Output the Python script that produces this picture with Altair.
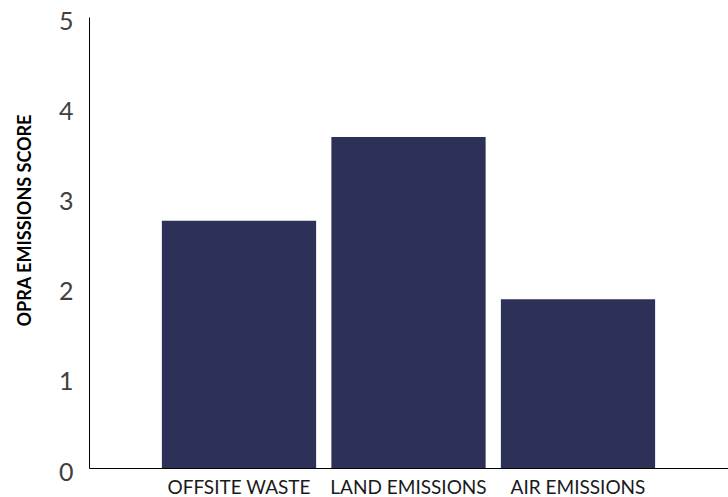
import altair as alt
import pandas as pd

categories = ["OFFSITE WASTE", "LAND EMISSIONS", "AIR EMISSIONS"]
scores = [2.74, 3.67, 1.87]
y_ticks = [0, 1, 2, 3, 4, 5]

df = pd.DataFrame({"category": categories, "score": scores})

chart = alt.Chart(df).mark_bar(color="#2D3057").encode(
    x=alt.X("category:N", sort=categories,
            scale=alt.Scale(paddingInner=0.09, paddingOuter=0.43, align=0.5),
            axis=alt.Axis(title=None, labelAngle=0, labelFont="Lato", labelFontSize=19,
                          labelColor="#1a1a1a", ticks=False, domainColor="#000000",
                          domainWidth=1, labelPadding=10, labelBaseline="top")),
    y=alt.Y("score:Q", scale=alt.Scale(domain=[0, 5], nice=False),
            axis=alt.Axis(values=y_ticks, title="OPRA EMISSIONS SCORE", grid=False, ticks=False,
                          labelFont="Lato", labelFontSize=25, labelColor="#404040",
                          labelPadding=16, labelOffset=4, domainColor="#000000", domainWidth=1,
                          titleFont="Lato", titleFontSize=18, titleFontWeight="bold",
                          titleColor="#000000", titleX=-64, titleY=203, titleAlign="center",
                          titleBaseline="middle")),
).properties(
    width=639, height=451,
    background="white",
    autosize=alt.AutoSizeParams(type="none"),
    padding={"left": 89, "top": 17, "right": 0, "bottom": 29},
).configure_view(stroke=None, strokeWidth=0)

chart.save("out.html", embed_options={"renderer": "svg", "actions": False})
